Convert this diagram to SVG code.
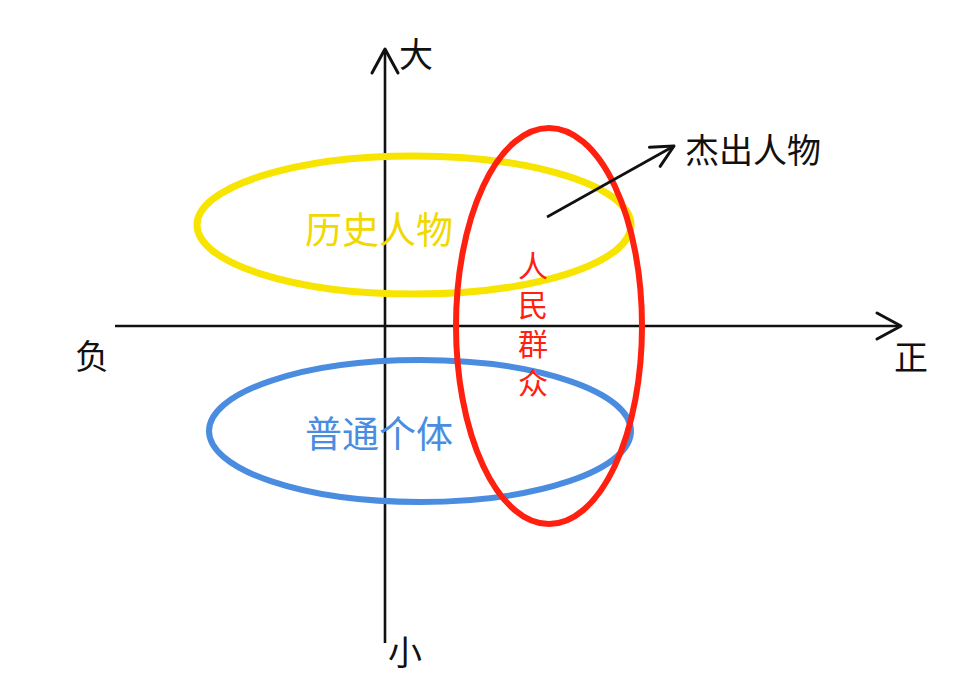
<svg xmlns="http://www.w3.org/2000/svg" width="960" height="698" viewBox="0 0 960 698">
<defs>
<marker id="axisHead" markerUnits="userSpaceOnUse" markerWidth="40" markerHeight="40" viewBox="-30 -20 40 40" refX="0" refY="0" orient="auto">
<path d="M-24,-13 L0,0 L-24,13" fill="none" stroke="#111" stroke-width="3" stroke-linecap="round" stroke-linejoin="round"/>
</marker>
<marker id="smallHead" markerUnits="userSpaceOnUse" markerWidth="40" markerHeight="40" viewBox="-30 -20 40 40" refX="0" refY="0" orient="auto">
<path d="M-22,-11 L0,0 L-22,11" fill="none" stroke="#111" stroke-width="3" stroke-linecap="round" stroke-linejoin="round"/>
</marker>
</defs>
<style>
.axis{stroke:#111;stroke-width:2.6;fill:none}
.lbl{font-family:"Noto Sans CJK SC","Noto Sans",sans-serif;text-anchor:middle;dominant-baseline:central}
.blk{fill:#111;font-size:34px}
.vert{font-family:"Noto Sans CJK SC","Noto Sans",sans-serif;writing-mode:vertical-rl;text-anchor:start;letter-spacing:9px}
</style>
<rect width="960" height="698" fill="#fff"/>
<g id="connectors">
<line id="y-axis" class="axis" x1="385" y1="643" x2="385" y2="49" marker-end="url(#axisHead)"/>
<line id="x-axis" class="axis" x1="115" y1="326" x2="901" y2="326" marker-end="url(#axisHead)"/>
</g>
<g id="historical">
<ellipse cx="414" cy="225" rx="217" ry="69" fill="none" stroke="#f7e400" stroke-width="7"/>
<text class="lbl" x="379" y="228" fill="#f0d800" font-size="37">历史人物</text>
</g>
<g id="ordinary">
<ellipse cx="420" cy="431" rx="211" ry="71" fill="none" stroke="#4a8de0" stroke-width="6"/>
<text class="lbl" x="379" y="432" fill="#4a8de0" font-size="37">普通个体</text>
</g>
<g id="people">
<ellipse cx="549" cy="326" rx="93" ry="198" fill="none" stroke="#ff2010" stroke-width="6"/>
<text class="vert" x="533" y="251" fill="#ff2010" font-size="30">人民群众</text>
</g>
<g id="outstanding">
<line x1="547" y1="217" x2="674" y2="146" stroke="#111" stroke-width="2.6" marker-end="url(#smallHead)"/>
<text class="lbl blk" x="753" y="148" font-size="37">杰出人物</text>
</g>
<g id="labels">
<text class="lbl blk" x="416" y="52">大</text>
<text class="lbl blk" x="405" y="650">小</text>
<text class="lbl blk" x="92" y="354">负</text>
<text class="lbl blk" x="911" y="355">正</text>
</g>
</svg>
